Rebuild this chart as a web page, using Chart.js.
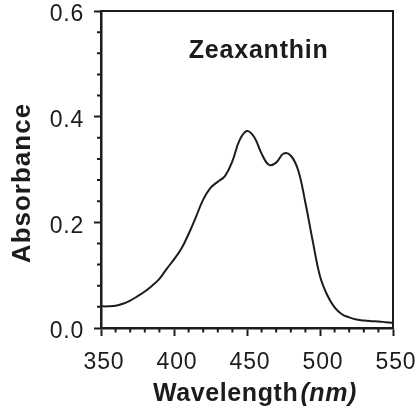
<!DOCTYPE html>
<html><head><meta charset="utf-8">
<script src="https://cdn.jsdelivr.net/npm/chart.js@4.4.0/dist/chart.umd.min.js"></script>
<style>html,body{margin:0;padding:0;background:#fff;} canvas{display:block;}</style>
</head><body>
<canvas id="c" width="416" height="412"></canvas>
<script>
const wavelengths = [350,355,360,365,370,375,380,385,390,395,400,405,410,415,420,425,430,435,440,445,450,455,460,465,470,475,480,485,490,495,500,505,510,515,520,525,530,535,540,545,550];
const absorbance  = [0.041,0.041,0.042,0.046,0.052,0.060,0.069,0.080,0.093,0.112,0.130,0.150,0.178,0.210,0.243,0.265,0.277,0.288,0.316,0.356,0.373,0.361,0.330,0.309,0.313,0.330,0.326,0.299,0.237,0.165,0.098,0.062,0.039,0.026,0.020,0.016,0.014,0.013,0.0125,0.011,0.0095];
const xTickLabels = [350,400,450,500,550];
const yTickLabels = [0.0,0.2,0.4,0.6];
const xMinorTicks = [360,370,380,390,410,420,430,440,460,470,480,490,510,520,530,540];
const yMinorTicks = [0.04,0.08,0.12,0.16,0.24,0.28,0.32,0.36,0.44,0.48,0.52,0.56];
const chartTitle = 'Zeaxanthin';
const xTitle = 'Wavelength';
const xUnit = '(nm)';
const yTitle = 'Absorbance';

const INK = '#1c1c1c';
const FONT = '"Liberation Sans", Arial, Helvetica, sans-serif';

function noPad(s) { s.paddingLeft = 0; s.paddingRight = 0; s.paddingTop = 0; s.paddingBottom = 0; }

const texts = {
  id: 'texts',
  beforeDraw(chart) { chart.ctx.letterSpacing = '0.8px'; },
  afterDraw(chart) {
    const {ctx, chartArea: a, scales: {x, y}} = chart;
    ctx.save();
    ctx.strokeStyle = INK;
    ctx.lineWidth = 2;
    ctx.beginPath();
    xMinorTicks.forEach(v => {
      const px = x.getPixelForValue(v);
      ctx.moveTo(px, a.bottom); ctx.lineTo(px, a.bottom + 4.5);
    });
    yMinorTicks.forEach(v => {
      const py = y.getPixelForValue(v);
      ctx.moveTo(a.left - 4, py); ctx.lineTo(a.left, py);
    });
    ctx.stroke();

    ctx.fillStyle = INK;
    // chart title
    ctx.letterSpacing = '0.8px';
    ctx.font = 'bold 25px ' + FONT;
    ctx.textAlign = 'center';
    ctx.textBaseline = 'alphabetic';
    ctx.fillText(chartTitle, x.getPixelForValue(458), y.getPixelForValue(0.511));

    // x title with italic unit
    ctx.letterSpacing = '0.6px';
    ctx.font = 'bold 25px ' + FONT;
    const w1 = ctx.measureText(xTitle).width;
    ctx.font = 'italic bold 25px ' + FONT;
    const w2 = ctx.measureText(xUnit).width;
    const cx = (a.left + a.right) / 2 + 8;
    const start = cx - (w1 + 2 + w2) / 2;
    ctx.textAlign = 'left';
    ctx.font = 'bold 25px ' + FONT;
    ctx.fillText(xTitle, start, 401);
    ctx.font = 'italic bold 25px ' + FONT;
    ctx.fillText(xUnit, start + w1 + 2, 401);

    // y title
    ctx.letterSpacing = '1px';
    ctx.font = 'bold 26px ' + FONT;
    ctx.translate(30, 183);
    ctx.rotate(-Math.PI / 2);
    ctx.textAlign = 'center';
    ctx.fillText(yTitle, 0, 0);
    ctx.restore();
  }
};

new Chart(document.getElementById('c'), {
  type: 'line',
  data: {
    datasets: [{
      data: wavelengths.map((w, i) => ({x: w, y: absorbance[i]})),
      borderColor: INK,
      borderWidth: 2,
      pointRadius: 0,
      fill: false,
      tension: 0.4
    }]
  },
  options: {
    responsive: false,
    animation: false,
    devicePixelRatio: 1,
    layout: {autoPadding: false, padding: {top: 11, right: 23, left: 0, bottom: 0}},
    plugins: {legend: {display: false}, tooltip: {enabled: false}, title: {display: false}},
    scales: {
      x: {
        type: 'linear', position: 'bottom', min: 350, max: 550,
        afterBuildTicks: s => { s.ticks = xTickLabels.map(v => ({value: v})); },
        afterFit: s => { s.height = 84; noPad(s); },
        ticks: {color: INK, font: {family: FONT, size: 23}, padding: 13, labelOffset: 3, maxRotation: 0,
                callback: v => String(v)},
        grid: {drawOnChartArea: false, drawTicks: true, tickLength: 8, tickWidth: 2, tickColor: INK, color: INK},
        border: {display: true, color: INK, width: 2.5}
      },
      y: {
        type: 'linear', position: 'left', min: 0, max: 0.6,
        afterBuildTicks: s => { s.ticks = yTickLabels.map(v => ({value: v})); },
        afterFit: s => { s.width = 101; noPad(s); },
        ticks: {color: INK, font: {family: FONT, size: 23}, padding: 10, labelOffset: 4,
                callback: v => Number(v).toFixed(1)},
        grid: {drawOnChartArea: false, drawTicks: true, tickLength: 7, tickWidth: 2, tickColor: INK, color: INK},
        border: {display: true, color: INK, width: 2.5}
      },
      x2: {
        type: 'linear', position: 'top', min: 350, max: 550,
        afterFit: s => { s.height = 0; noPad(s); },
        ticks: {display: false},
        grid: {display: false, drawTicks: false},
        border: {display: true, color: INK, width: 2}
      },
      y2: {
        type: 'linear', position: 'right', min: 0, max: 0.6,
        afterFit: s => { s.width = 0; noPad(s); },
        ticks: {display: false},
        grid: {display: false, drawTicks: false},
        border: {display: true, color: INK, width: 2}
      }
    }
  },
  plugins: [texts]
});
</script>
</body></html>
